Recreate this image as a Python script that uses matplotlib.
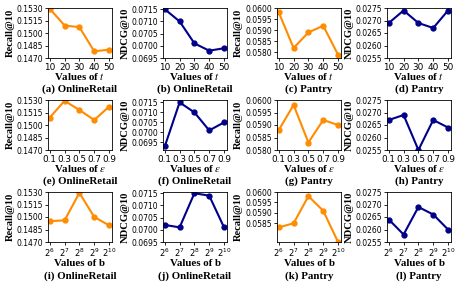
import matplotlib
matplotlib.use("Agg")
import matplotlib.pyplot as plt
import numpy as np

# x-axis settings
t_labels = ["10", "20", "30", "40", "50"]
eps_labels = ["0.1", "0.3", "0.5", "0.7", "0.9"]
b_labels = ["$2^{6}$", "$2^{7}$", "$2^{8}$", "$2^{9}$", "$2^{10}$"]

# row 1: values of t
recall_retail_t = [0.1529, 0.1509, 0.1507, 0.1478, 0.1480]
ndcg_retail_t = [0.0715, 0.0710, 0.0701, 0.0698, 0.0699]
recall_pantry_t = [0.0598, 0.0582, 0.0589, 0.0592, 0.0579]
ndcg_pantry_t = [0.0269, 0.0274, 0.0269, 0.0267, 0.0274]

# row 2: values of epsilon
recall_retail_eps = [0.1509, 0.1529, 0.1518, 0.1506, 0.1522]
ndcg_retail_eps = [0.0693, 0.0715, 0.0710, 0.0701, 0.0705]
recall_pantry_eps = [0.0588, 0.0598, 0.0583, 0.0592, 0.0590]
ndcg_pantry_eps = [0.0267, 0.0269, 0.0255, 0.0267, 0.0264]

# row 3: values of b
recall_retail_b = [0.1495, 0.1496, 0.1529, 0.1500, 0.1490]
ndcg_retail_b = [0.0702, 0.0701, 0.0715, 0.0714, 0.0701]
recall_pantry_b = [0.0583, 0.0585, 0.0598, 0.0591, 0.0576]
ndcg_pantry_b = [0.0264, 0.0258, 0.0269, 0.0266, 0.0260]

ORANGE = "#ff8c00"
BLUE = "#00008b"

label_font = {"family": "Liberation Serif", "weight": "bold", "size": 7.8}

recall_retail_ticks = [0.1470, 0.1485, 0.1500, 0.1515, 0.1530]
ndcg_retail_ticks = [0.0695, 0.0700, 0.0705, 0.0710, 0.0715]
recall_pantry_ticks = [0.0580, 0.0585, 0.0590, 0.0595, 0.0600]
ndcg_pantry_ticks = [0.0255, 0.0260, 0.0265, 0.0270, 0.0275]

panels = [
    # row, col, values, color, ylabel, yticks, ylim, xlabels, xname, caption
    (0, 0, recall_retail_t, ORANGE, "Recall@10", recall_retail_ticks, (0.1470, 0.1530), t_labels, "$t$", "(a) OnlineRetail"),
    (0, 1, ndcg_retail_t, BLUE, "NDCG@10", ndcg_retail_ticks, (0.0695, 0.07155), t_labels, "$t$", "(b) OnlineRetail"),
    (0, 2, recall_pantry_t, ORANGE, "Recall@10", recall_pantry_ticks, (0.05775, 0.0600), t_labels, "$t$", "(c) Pantry"),
    (0, 3, ndcg_pantry_t, BLUE, "NDCG@10", ndcg_pantry_ticks, (0.0255, 0.0275), t_labels, "$t$", "(d) Pantry"),
    (1, 0, recall_retail_eps, ORANGE, "Recall@10", recall_retail_ticks, (0.1470, 0.1530), eps_labels, r"$\varepsilon$", "(e) OnlineRetail"),
    (1, 1, ndcg_retail_eps, BLUE, "NDCG@10", ndcg_retail_ticks, (0.06912, 0.07162), eps_labels, r"$\varepsilon$", "(f) OnlineRetail"),
    (1, 2, recall_pantry_eps, ORANGE, "Recall@10", recall_pantry_ticks, (0.0580, 0.0600), eps_labels, r"$\varepsilon$", "(g) Pantry"),
    (1, 3, ndcg_pantry_eps, BLUE, "NDCG@10", ndcg_pantry_ticks, (0.0255, 0.0275), eps_labels, r"$\varepsilon$", "(h) Pantry"),
    (2, 0, recall_retail_b, ORANGE, "Recall@10", recall_retail_ticks, (0.1470, 0.1530), b_labels, "b", "(i) OnlineRetail"),
    (2, 1, ndcg_retail_b, BLUE, "NDCG@10", ndcg_retail_ticks, (0.0695, 0.07155), b_labels, "b", "(j) OnlineRetail"),
    (2, 2, recall_pantry_b, ORANGE, "Recall@10", recall_pantry_ticks[1:], (0.0576, 0.0600), b_labels, "b", "(k) Pantry"),
    (2, 3, ndcg_pantry_b, BLUE, "NDCG@10", ndcg_pantry_ticks, (0.0255, 0.0275), b_labels, "b", "(l) Pantry"),
]

W, H = 463, 285
fig = plt.figure(figsize=(W / 100, H / 100), dpi=100)

col_left = [48, 163, 277, 387]
col_width = 64
row_top = [8, 100, 192]
row_height = 50
xlabel_y = [-0.27, -0.27, -0.33]
caption_y = [-0.53, -0.53, -0.58]

for row, col, vals, color, ylabel, yticks, ylim, xlabels, xname, caption in panels:
    left = col_left[col] / W
    bottom = 1 - (row_top[row] + row_height) / H
    ax = fig.add_axes([left, bottom, col_width / W, row_height / H])
    x = np.arange(len(vals))
    ax.plot(x, vals, color=color, marker="o", markersize=3.5, linewidth=1.5)
    ax.set_xlim(-0.12, 4.2)
    ax.set_ylim(*ylim)
    ax.set_xticks(x)
    ax.set_xticklabels(xlabels)
    ax.set_yticks(yticks)
    ax.set_yticklabels([f"{v:.4f}" for v in yticks])
    ax.tick_params(axis="both", length=2, width=0.6, pad=1.5)
    ax.tick_params(axis="y", labelsize=5.5)
    ax.tick_params(axis="x", labelsize=6.4 if row < 2 else 6.0, pad=1.5 if row < 2 else 1)
    for s in ax.spines.values():
        s.set_linewidth(0.6)
    ax.set_ylabel(ylabel, fontdict={**label_font, "size": 7.6}, labelpad=1.5)
    xl = ax.set_xlabel("Values of " + xname, fontdict=label_font)
    xl.set_math_fontfamily("stix")
    ax.xaxis.set_label_coords(0.5, xlabel_y[row])
    ax.text(0.5, caption_y[row], caption, transform=ax.transAxes, ha="center", va="top",
            fontdict=label_font)

fig.savefig("out.png", dpi=100)
